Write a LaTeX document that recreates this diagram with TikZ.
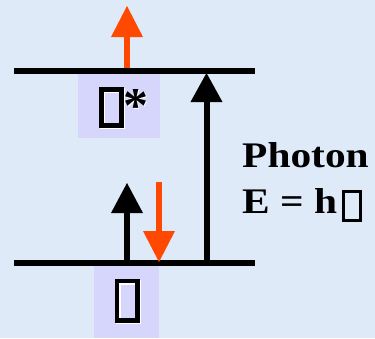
\documentclass[tikz,border=0pt]{standalone}
\usepackage{fontspec}
\setmainfont{Liberation Serif}
\definecolor{bgblue}{RGB}{222,234,247}
\definecolor{lav}{RGB}{214,214,252}
\definecolor{orng}{RGB}{255,72,0}
\begin{document}
\begin{tikzpicture}[x=1pt,y=-1pt,
  level/.style={line width=6pt,black},
  labelbox/.style={fill=lav,draw=none},
  tofu/.style={line width=#1,draw=black},
  tofushadow/.style={line width=#1,draw=white},
  headfill/.style={fill=#1,draw=none},
  shaft/.style={line width=6pt,draw=#1},
  bigtext/.style={font=\bfseries\fontsize{36}{40}\selectfont,inner sep=0pt,anchor=base west,xscale=1.15}]
\useasboundingbox[fill=bgblue] (0,0) rectangle (375,338);
% label boxes
\fill[labelbox] (78,74) rectangle (160,138);
\fill[labelbox] (94,266) rectangle (159,338);
% energy levels
\coordinate (upL) at (14,71);
\coordinate (upR) at (255,71);
\coordinate (loL) at (14,263);
\coordinate (loR) at (255,263);
\draw[level] (upL) -- (upR);
\draw[level] (loL) -- (loR);
% tofu glyphs
\draw[tofushadow=5pt] (102.5,90.5) rectangle (122.5,126);
\draw[tofu=5pt] (101.5,89.5) rectangle (121.5,125);
\node[font=\bfseries\fontsize{50}{50}\selectfont,text=white,inner sep=0pt,anchor=base west] at (124.5,123.5) {*};
\node[font=\bfseries\fontsize{50}{50}\selectfont,inner sep=0pt,anchor=base west] (star) at (123,122) {*};
\draw[tofushadow=4.5pt] (118.5,282.5) rectangle (138.5,322);
\draw[tofu=4.5pt] (117,281) rectangle (137.5,320.5);
% orange top arrow
\coordinate (a1tip) at (127,6);
\draw[shaft=orng] (127,68) -- (127,36);
\fill[headfill=orng] (111,37) -- (a1tip) -- (143,37) -- cycle;
% black small arrow
\coordinate (a2tip) at (127,183);
\draw[shaft=black] (127,261) -- (127,212);
\fill[headfill=black] (111,213) -- (a2tip) -- (143,213) -- cycle;
% orange down arrow
\coordinate (a3tip) at (159,262);
\draw[shaft=orng] (159,182) -- (159,232);
\fill[headfill=orng] (143,231) -- (a3tip) -- (175,231) -- cycle;
% big black arrow
\coordinate (a4tip) at (206.5,73);
\draw[shaft=black] (206.5,261) -- (206.5,101);
\fill[headfill=black] (190.5,102) -- (a4tip) -- (222.5,102) -- cycle;
% text
\node[bigtext] (photon) at (242,167) {Photon};
\node[bigtext] (energy) at (242,213) {E = h};
\draw[tofu=3pt] (343.5,191.5) rectangle (360.5,220.5);
\end{tikzpicture}
\end{document}
